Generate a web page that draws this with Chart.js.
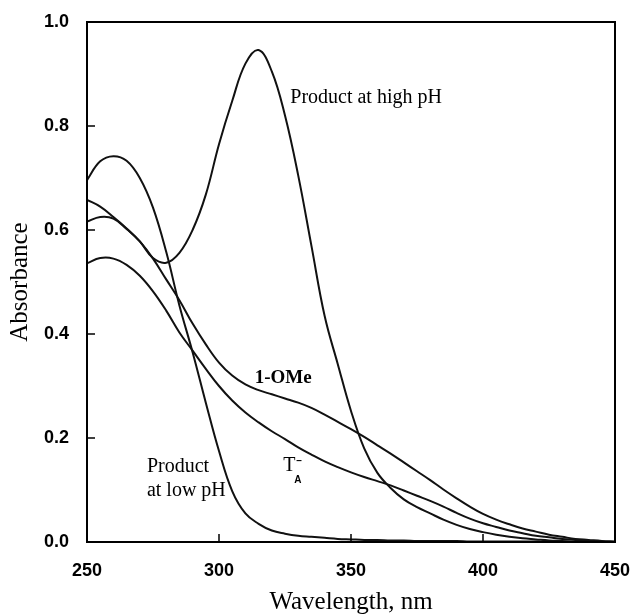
<!DOCTYPE html>
<html>
<head>
<meta charset="utf-8">
<script src="https://cdn.jsdelivr.net/npm/chart.js@4/dist/chart.umd.min.js"></script>
<style>
  html, body { margin: 0; padding: 0; background: #fff; }
</style>
</head>
<body>
<canvas id="chart" width="632" height="615"></canvas>
<script>
// wavelength grid, nm
const wavelengths = [250, 255, 260, 265, 270, 275, 280, 285, 290, 295,
                     300, 305, 310, 315, 320, 325, 330, 335, 340, 345,
                     350, 355, 360, 365, 370, 375, 380, 385, 390, 395,
                     400, 405, 410, 415, 420, 425, 430, 435, 440, 445, 450];

// absorbance
const highPH = [0.616, 0.625, 0.622, 0.602, 0.578, 0.546, 0.537, 0.556, 0.600, 0.668,
                0.765, 0.848, 0.920, 0.946, 0.905, 0.820, 0.705, 0.570, 0.435, 0.342,
                0.252, 0.180, 0.133, 0.104, 0.082, 0.067, 0.055, 0.043, 0.033, 0.025,
                0.019, 0.014, 0.010, 0.007, 0.005, 0.003, 0.002, 0.001, 0.001, 0.000, 0.000];

const lowPH = [0.696, 0.732, 0.742, 0.733, 0.700, 0.643, 0.558, 0.455, 0.365, 0.268,
               0.175, 0.098, 0.055, 0.035, 0.022, 0.016, 0.012, 0.010, 0.008, 0.006,
               0.005, 0.004, 0.004, 0.003, 0.003, 0.002, 0.002, 0.002, 0.002, 0.001,
               0.001, 0.001, 0.001, 0.001, 0.001, 0.000, 0.000, 0.000, 0.000, 0.000, 0.000];

const oneOMe = [0.658, 0.645, 0.625, 0.603, 0.578, 0.545, 0.505, 0.465, 0.420, 0.380,
                0.345, 0.320, 0.303, 0.292, 0.284, 0.276, 0.268, 0.258, 0.245, 0.231,
                0.217, 0.202, 0.186, 0.170, 0.153, 0.136, 0.119, 0.101, 0.084, 0.068,
                0.054, 0.043, 0.034, 0.026, 0.020, 0.014, 0.010, 0.006, 0.004, 0.002, 0.001];

const tA = [0.536, 0.546, 0.545, 0.533, 0.512, 0.482, 0.445, 0.403, 0.368, 0.333,
            0.300, 0.272, 0.249, 0.230, 0.213, 0.198, 0.182, 0.168, 0.155, 0.144,
            0.134, 0.125, 0.117, 0.109, 0.099, 0.089, 0.079, 0.068, 0.056, 0.045,
            0.036, 0.029, 0.022, 0.017, 0.012, 0.009, 0.006, 0.004, 0.002, 0.001, 0.000];

const seriesNames = ['Product at high pH', 'Product at low pH', '1-OMe', 'T_A-'];
const seriesValues = [highPH, lowPH, oneOMe, tA];

const serif = '"Liberation Serif", "Times New Roman", serif';
const sans = '"Liberation Sans", Arial, Helvetica, sans-serif';

// рамка, внутренние засечки и подписи кривых
const framePlugin = {
    id: 'frame',
    afterDatasetsDraw(chart) {
        const { ctx, chartArea: a, scales: { x, y } } = chart;
        ctx.save();
        ctx.strokeStyle = '#000';
        ctx.lineWidth = 2;
        ctx.strokeRect(a.left, a.top, a.right - a.left, a.bottom - a.top);

        ctx.lineWidth = 1.5;
        ctx.beginPath();
        x.ticks.forEach(t => {
            if (t.value <= x.min || t.value >= x.max) return;
            const px = x.getPixelForValue(t.value);
            ctx.moveTo(px, a.bottom);
            ctx.lineTo(px, a.bottom - 8);
        });
        y.ticks.forEach(t => {
            if (t.value <= y.min || t.value >= y.max) return;
            const py = y.getPixelForValue(t.value);
            ctx.moveTo(a.left, py);
            ctx.lineTo(a.left + 8, py);
        });
        ctx.stroke();

        ctx.fillStyle = '#000';
        ctx.textAlign = 'left';
        ctx.textBaseline = 'middle';

        ctx.font = '20px ' + serif;
        ctx.fillText('Product at high pH', x.getPixelForValue(327), y.getPixelForValue(0.855));
        ctx.fillText('Product', x.getPixelForValue(272.7), y.getPixelForValue(0.144));
        ctx.fillText('at low pH', x.getPixelForValue(272.7), y.getPixelForValue(0.098));

        ctx.font = 'bold 19px ' + serif;
        ctx.fillText('1-OMe', x.getPixelForValue(313.5), y.getPixelForValue(0.316));

        const tx = x.getPixelForValue(324.3);
        const ty = y.getPixelForValue(0.146);
        ctx.font = '20px ' + serif;
        ctx.fillText('T', tx, ty);
        const tw = ctx.measureText('T').width;
        ctx.font = 'bold 10px ' + sans;
        ctx.fillText('A', tx + tw - 1, ty + 14);
        ctx.fillText('\u2013', tx + tw + 1, ty - 5);
        ctx.restore();
    }
};

const ctx = document.getElementById('chart').getContext('2d');

new Chart(ctx, {
    type: 'line',
    data: {
        datasets: seriesValues.map((vals, i) => ({
            label: seriesNames[i],
            data: wavelengths.map((w, j) => ({ x: w, y: vals[j] })),
            borderColor: '#111',
            borderWidth: 2,
            pointRadius: 0,
            fill: false,
            tension: 0.4
        }))
    },
    options: {
        responsive: false,
        animation: false,
        devicePixelRatio: 1,
        layout: { padding: { top: 22, right: 17, left: 0, bottom: 0 } },
        plugins: {
            legend: { display: false },
            tooltip: { enabled: false }
        },
        scales: {
            x: {
                type: 'linear',
                min: 250,
                max: 450,
                afterFit: s => {
                    s.height = 73;
                    s.paddingLeft = 0;
                    s.paddingRight = 0;
                },
                grid: { display: false },
                border: { display: false },
                ticks: {
                    stepSize: 50,
                    padding: 10,
                    color: '#000',
                    font: { family: sans, size: 18, weight: 'bold' }
                },
                title: {
                    display: true,
                    text: 'Wavelength, nm',
                    color: '#000',
                    font: { family: serif, size: 25, lineHeight: 1 },
                    padding: { top: 0, bottom: 0 }
                }
            },
            y: {
                min: 0,
                max: 1,
                afterFit: s => { s.width = 87; },
                grid: { display: false },
                border: { display: false },
                ticks: {
                    stepSize: 0.2,
                    padding: 10,
                    color: '#000',
                    font: { family: sans, size: 18, weight: 'bold' },
                    callback: v => v.toFixed(1)
                },
                title: {
                    display: true,
                    text: 'Absorbance',
                    color: '#000',
                    font: { family: serif, size: 25, lineHeight: 1 },
                    padding: { top: 8, bottom: 0 }
                }
            }
        }
    },
    plugins: [framePlugin]
});
</script>
</body>
</html>
